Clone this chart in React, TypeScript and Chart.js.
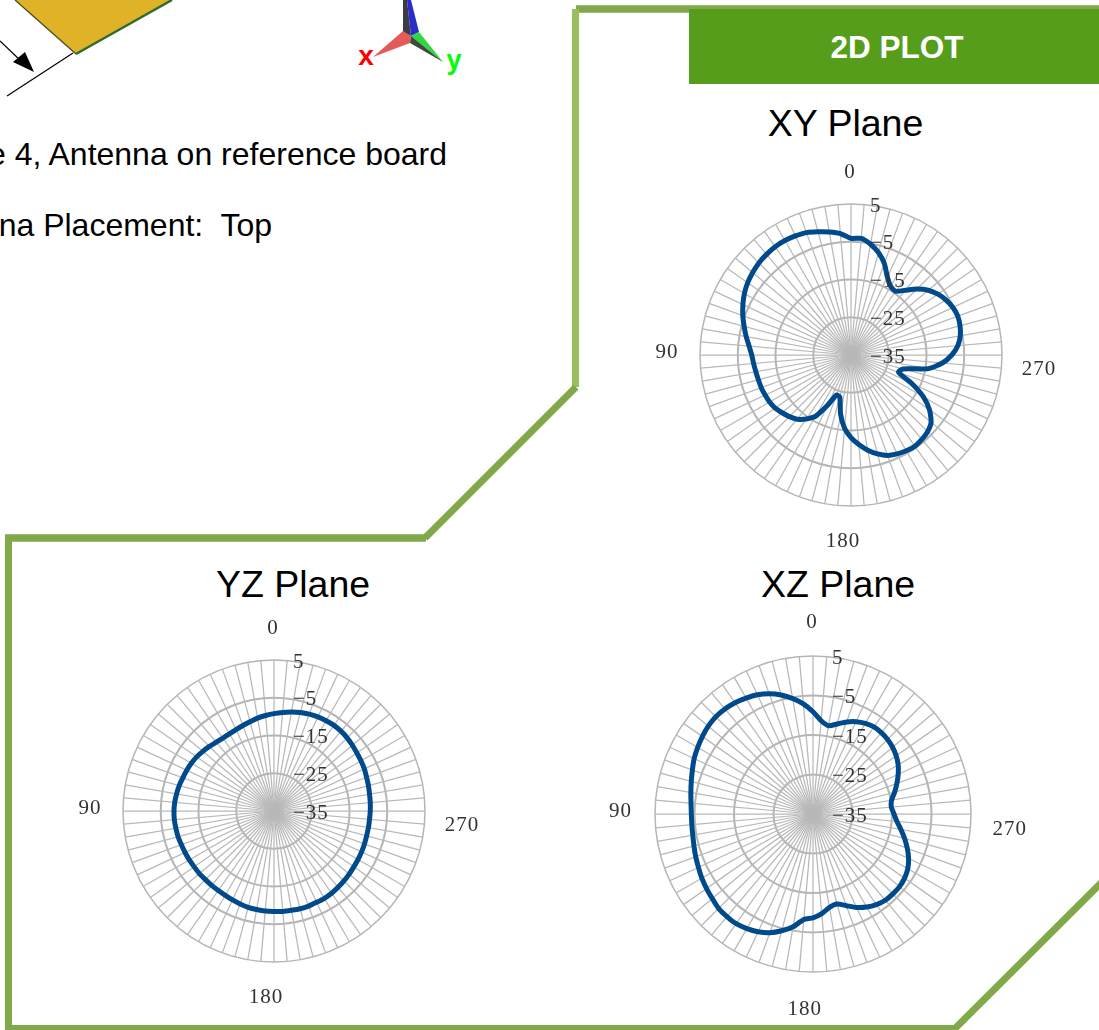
import React, { useEffect, useRef } from "react";
import { Chart, registerables } from "chart.js";

Chart.register(...registerables);

// Gain in dBi at 0, 5, 10 ... 355 degrees
const xyPlane = [
  -4.1, -2.7, -1.9, -1.2, -0.5, -0.2, 0.0, 0.0, -0.2, -0.5, -1.0, -1.6,
  -2.4, -3.4, -4.5, -5.7, -6.8, -7.9, -8.7, -9.1, -9.4, -9.6, -9.7, -9.9,
  -10.1, -10.5, -11.2, -11.9, -12.8, -14.3, -16.3, -20.3, -23.7, -23.5, -19.1, -15.5,
  -13.1, -11.2, -9.4, -7.9, -6.7, -6.1, -5.7, -5.5, -5.8, -6.3, -7.3, -9.6,
  -12.9, -17.3, -21.6, -20.7, -14.2, -10.7, -8.3, -6.6, -5.6, -5.1, -4.9, -5.2,
  -5.9, -6.9, -8.3, -10.3, -12.6, -14.4, -14.0, -12.2, -9.2, -6.9, -5.2, -4.0,
];
const yzPlane = [
  -9.2, -9.6, -10.0, -10.5, -10.9, -11.2, -11.4, -11.4, -11.2, -10.8, -10.4, -10.0,
  -9.7, -9.5, -9.3, -9.0, -8.8, -8.6, -8.5, -8.5, -8.6, -8.7, -8.9, -9.0,
  -9.1, -9.2, -9.2, -9.3, -9.3, -9.3, -9.2, -9.0, -8.8, -8.6, -8.5, -8.4,
  -8.4, -8.3, -8.3, -8.2, -8.2, -8.3, -8.3, -8.4, -8.6, -8.8, -9.0, -9.2,
  -9.3, -9.4, -9.5, -9.6, -9.6, -9.6, -9.5, -9.4, -9.3, -9.1, -8.9, -8.6,
  -8.4, -8.2, -7.9, -7.6, -7.4, -7.3, -7.4, -7.5, -7.7, -8.0, -8.4, -8.8,
];
const xzPlane = [
  -9.1, -7.0, -5.3, -3.8, -2.6, -1.7, -1.1, -0.6, -0.3, -0.2, -0.4, -0.8,
  -1.3, -1.8, -2.5, -3.1, -3.6, -4.0, -4.2, -4.2, -4.1, -3.8, -3.4, -3.0,
  -2.5, -2.1, -1.7, -1.2, -1.1, -1.1, -1.5, -2.1, -3.0, -4.4, -6.0, -8.2,
  -8.7, -9.7, -11.0, -11.4, -10.3, -8.9, -7.8, -7.0, -6.5, -6.4, -6.4, -6.7,
  -7.3, -8.3, -9.6, -11.0, -12.4, -13.7, -14.5, -15.1, -14.8, -13.6, -12.4, -11.2,
  -10.1, -9.3, -8.7, -8.3, -8.1, -8.1, -8.5, -9.2, -10.2, -11.4, -12.3, -11.3,
];
const angleLabels = ["0", "90", "180", "270"];
const gainMin = -35;
const gainMax = 5;
const gainStep = 10;

const GREEN = "#81a94a";
const PAD = 60;

// offset of each angle label from the plot centre, for a plot of radius 151
const labelOffset: Record<string, [number, number]> = {
  "0": [-1, -184],
  "90": [-184, -4],
  "180": [-8, 185],
  "270": [188, 13],
};

// the plot runs anticlockwise from the top; a radar scale runs clockwise
const anticlockwise = (a: number[]) => [a[0], ...a.slice(1).reverse()];

const textPlugin = {
  id: "polarText",
  afterDraw(chart: any) {
    const scale = chart.scales.r;
    const { ctx } = chart;
    const k = scale.drawingArea / 151;
    ctx.save();
    ctx.font = '21px "Liberation Serif"';
    ctx.letterSpacing = "1px";
    ctx.fillStyle = "#333333";
    ctx.textBaseline = "middle";
    ctx.textAlign = "left";
    scale.ticks.forEach((t: any) => {
      const d = scale.getDistanceFromCenterForValue(t.value);
      const s = t.value < 0 ? "\u2212" + Math.abs(t.value) : String(t.value);
      ctx.fillText(s, scale.xCenter + 19, scale.yCenter - d + 2);
    });
    ctx.textAlign = "center";
    angleLabels.forEach((s) => {
      const [dx, dy] = labelOffset[s];
      ctx.fillText(s, scale.xCenter + dx * k, scale.yCenter + dy * k + 1.5);
    });
    ctx.restore();
  },
};

function Polar({ values, cx, cy, r }: { values: number[]; cx: number; cy: number; r: number }) {
  const ref = useRef<HTMLCanvasElement>(null);
  const size = 2 * (r + PAD);
  useEffect(() => {
    const data = anticlockwise(values);
    const labels = anticlockwise(values.map((_, i) => String(i * 5)));
    const chart = new Chart(ref.current as HTMLCanvasElement, {
      type: "radar",
      data: {
        labels,
        datasets: [
          {
            data,
            borderColor: "#004a8c",
            borderWidth: 5,
            pointRadius: 0,
            fill: false,
            tension: 0.2,
          },
        ],
      },
      options: {
        animation: false,
        responsive: false,
        devicePixelRatio: 1,
        layout: { padding: PAD },
        plugins: { legend: { display: false }, tooltip: { enabled: false } },
        scales: {
          r: {
            min: gainMin,
            max: gainMax,
            ticks: { display: false, stepSize: gainStep },
            pointLabels: { display: false },
            angleLines: { color: "#b8b8b8", lineWidth: 1.25 },
            grid: {
              circular: true,
              color: "#b5b5b5",
              lineWidth: (c: any) => (c.tick && c.tick.value === gainMax ? 1.5 : 2),
            },
          },
        },
      } as any,
      plugins: [textPlugin],
    } as any);
    return () => chart.destroy();
  }, [values, r]);
  return (
    <canvas
      ref={ref}
      width={size}
      height={size}
      style={{ position: "absolute", left: cx - r - PAD, top: cy - r - PAD, width: size, height: size }}
    />
  );
}

function Backdrop() {
  const sans = '"Liberation Sans"';
  return (
    <svg width={1099} height={1030} style={{ position: "absolute", left: 0, top: 0 }} fontFamily={sans}>
      {/* board */}
      <polygon points="15,0 172,0 76,54" fill="#e0b228" />
      <polyline points="15,0 76,54" fill="none" stroke="#4a4a2a" strokeWidth={1.3} />
      <polyline points="76,54 172,0" fill="none" stroke="#2f6b2c" strokeWidth={2.4} />
      {/* dimension arrow */}
      <line x1={7} y1={96} x2={73} y2={53} stroke="#000" strokeWidth={1.2} />
      <line x1={0} y1={41} x2={22} y2={62} stroke="#000" strokeWidth={1.2} />
      <polygon points="34,72 13,62 25,52" fill="#000" />
      {/* axis triad */}
      <polygon points="403,0 407,0 411,36 403,32" fill="#3c3c44" />
      <polygon points="407,0 411,0 419,32 411,36" fill="#2c2cc8" />
      <polygon points="373,57 403,31 411,36 410,43" fill="#e45a5a" />
      <polygon points="443,62 419,32 411,36" fill="#2fd83f" />
      <polygon points="443,62 411,36 410,43" fill="#3f4a3f" />
      <text x={366} y={65} fontSize={28} fontWeight="bold" fill="#ff0000" textAnchor="middle">x</text>
      <text x={454} y={69} fontSize={27} fontWeight="bold" fill="#00ff00" textAnchor="middle">y</text>
      {/* text */}
      <text x={447} y={165} fontSize={32} textAnchor="end" fill="#000">Type 4, Antenna on reference board</text>
      <text x={272} y={236} fontSize={32} textAnchor="end" fill="#000" style={{ whiteSpace: "pre" }}>
        {"Antenna Placement:  Top"}
      </text>
      {/* frame */}
      <polyline points="576,9 1099,9" fill="none" stroke={GREEN} strokeWidth={7.5} />
      <polyline points="575.5,9 575.5,387" fill="none" stroke="#97bf5b" strokeWidth={7} />
      <polyline points="576,387 425,538" fill="none" stroke={GREEN} strokeWidth={7} />
      <polyline points="426,538 5,538" fill="none" stroke={GREEN} strokeWidth={7.5} />
      <polyline points="8.5,535 8.5,1030" fill="none" stroke={GREEN} strokeWidth={7} />
      <polyline points="5,1028.5 955,1028.5 1103,881" fill="none" stroke={GREEN} strokeWidth={7} />
      {/* banner */}
      <rect x={689} y={9} width={410} height={75} fill="#569d1b" />
      <text x={897} y={58} fontSize={31.5} fontWeight="bold" fill="#fff" textAnchor="middle">2D PLOT</text>
      {/* plot titles */}
      <text x={845.5} y={136} fontSize={37.5} textAnchor="middle" fill="#000">XY Plane</text>
      <text x={293} y={597} fontSize={37.5} textAnchor="middle" fill="#000">YZ Plane</text>
      <text x={838} y={597} fontSize={37.5} textAnchor="middle" fill="#000">XZ Plane</text>
    </svg>
  );
}

export default function App() {
  return (
    <div style={{ position: "fixed", left: 0, top: 0, width: 1099, height: 1030, overflow: "hidden", background: "#fff" }}>
      <Backdrop />
      <Polar values={xyPlane} cx={851} cy={355} r={151} />
      <Polar values={yzPlane} cx={274} cy={811} r={151} />
      <Polar values={xzPlane} cx={813} cy={814} r={158} />
    </div>
  );
}
